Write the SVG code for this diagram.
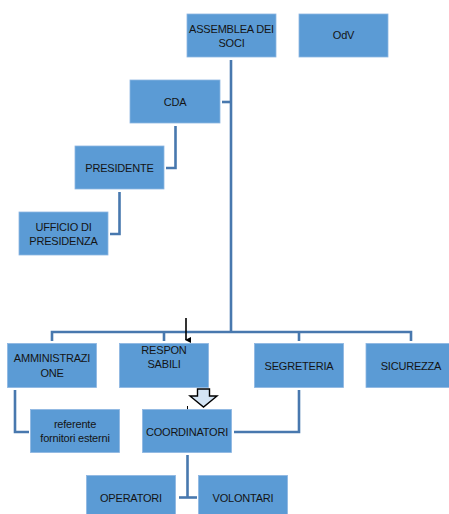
<svg xmlns="http://www.w3.org/2000/svg" width="449" height="514" viewBox="0 0 449 514">
<defs>
<style>
.box{fill:#5B9BD5;stroke:#8DB6E2;stroke-width:0.8}
.t{font-family:"Liberation Sans",Arial,sans-serif;font-size:11px;fill:#141414;text-anchor:middle;letter-spacing:-0.2px}
.c{fill:none;stroke:#4878AE;stroke-width:2.6}
</style>
<marker id="ah" markerWidth="6" markerHeight="6" refX="3" refY="5" orient="auto" markerUnits="userSpaceOnUse"><path d="M0,0 L6,0 L3,6 Z" fill="#000"/></marker>
</defs>
<rect width="449" height="514" fill="#fff"/>
<g id="connectors">
<path class="c" d="M231,60 V332"/>
<path class="c" d="M222,102 H231"/>
<path class="c" d="M175.5,126 V168 H166"/>
<path class="c" d="M119.5,192 V234 H110"/>
<path class="c" d="M52,341 V332 H411 V341"/>
<path class="c" d="M164,332 V341"/>
<path class="c" d="M299,332 V341"/>
<path class="c" d="M15,390 V432 H29"/>
<path class="c" d="M299,390 V432 H234"/>
<path class="c" d="M187.5,455 V497.5"/>
<path class="c" d="M179,497.5 H197"/>
<path d="M186,318 V340" stroke="#000" stroke-width="1.6" marker-end="url(#ah)"/>
<path d="M187.5,406 V410" stroke="#000" stroke-width="1"/>
<path d="M197.5,389 H209.5 V396 H217 L203.5,407 L190,396 H197.5 Z" fill="#D4E4F4" stroke="#000" stroke-width="1.4"/>
</g>
<g id="assemblea"><rect class="box" x="187" y="14" width="89" height="43"/><text class="t" x="231.5" y="33">ASSEMBLEA DEI</text><text class="t" x="231.5" y="47">SOCI</text></g>
<g id="odv"><rect class="box" x="299" y="14" width="89" height="43"/><text class="t" x="343.5" y="39">OdV</text></g>
<g id="cda"><rect class="box" x="130" y="80" width="90" height="43"/><text class="t" x="175" y="106">CDA</text></g>
<g id="presidente"><rect class="box" x="75" y="146" width="89" height="43"/><text class="t" x="119.5" y="171.5">PRESIDENTE</text></g>
<g id="ufficio"><rect class="box" x="19" y="212" width="89" height="43"/><text class="t" x="63.5" y="230.5">UFFICIO DI</text><text class="t" x="63.5" y="244.5">PRESIDENZA</text></g>
<g id="amministrazione"><rect class="box" x="7.5" y="343.5" width="89" height="44"/><text class="t" x="52" y="362">AMMINISTRAZI</text><text class="t" x="52" y="376.5">ONE</text></g>
<g id="responsabili"><rect class="box" x="119.5" y="343.5" width="89" height="44"/><text class="t" x="164" y="354">RESPON</text><text class="t" x="164" y="368">SABILI</text></g>
<g id="segreteria"><rect class="box" x="254.5" y="343.5" width="89" height="44"/><text class="t" x="299" y="369.5">SEGRETERIA</text></g>
<g id="sicurezza"><rect class="box" x="366" y="343.5" width="89" height="44"/><text class="t" x="411" y="369.5">SICUREZZA</text></g>
<g id="referente"><rect class="box" x="30.5" y="409.5" width="89" height="43"/><text class="t" x="75" y="428">referente</text><text class="t" x="75" y="442">fornitori esterni</text></g>
<g id="coordinatori"><rect class="box" x="142.5" y="409.5" width="89" height="43"/><text class="t" x="187" y="435.5">COORDINATORI</text></g>
<g id="operatori"><rect class="box" x="86.5" y="475.5" width="89" height="43"/><text class="t" x="131" y="501.5">OPERATORI</text></g>
<g id="volontari"><rect class="box" x="198.5" y="475.5" width="89" height="43"/><text class="t" x="243" y="501.5">VOLONTARI</text></g>
</svg>
